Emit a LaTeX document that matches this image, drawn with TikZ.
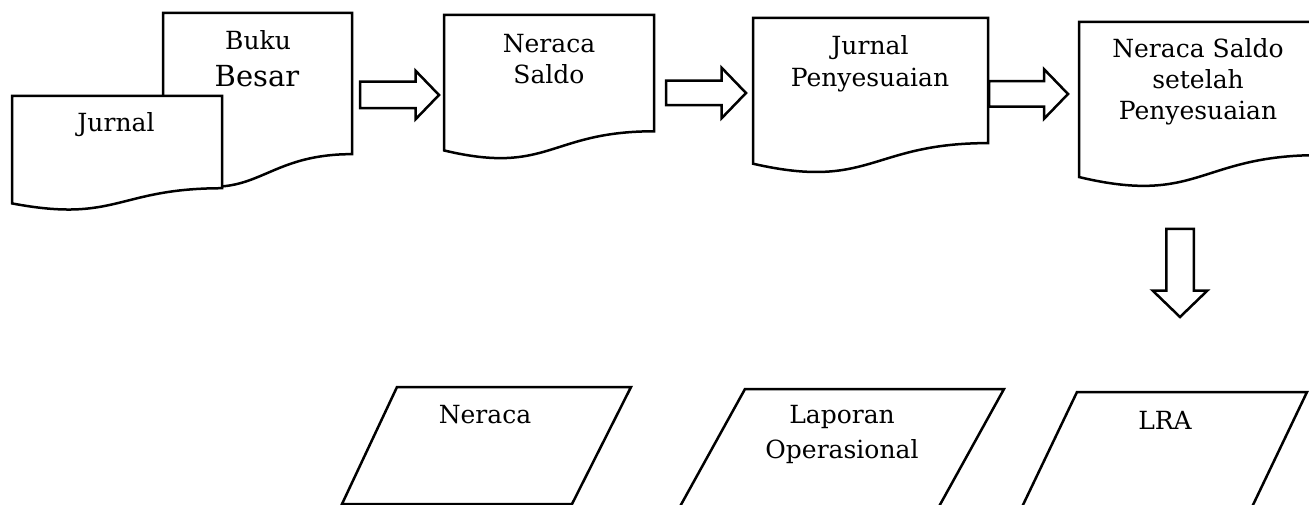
\documentclass[tikz,border=0pt]{standalone}
\usepackage{fontspec}
\setmainfont{DejaVu Serif}
\usetikzlibrary{shapes.arrows}
\tikzset{
  docline/.style={draw=black, line width=2.5pt, fill=white, line join=miter},
  blockarrow/.style={single arrow, draw=black, fill=white, line width=2.5pt, inner xsep=0pt, outer sep=0pt, single arrow tip angle=92, single arrow head indent=0pt, anchor=tail},
  txt/.style={inner sep=0pt, align=center, font=\fontsize{25}{31}\selectfont},
  para/.style={draw=black, line width=2.5pt},
}
% document shape: left x, top y, width, height (y grows downward)
\newcommand\docshape[4]{%
  \draw[docline] (#1,#2) -- ({#1+#3},#2) -- ({#1+#3},{#2+0.802*#4})
    .. controls ({#1+0.5*#3},{#2+0.802*#4}) and ({#1+0.5*#3},{#2+1.107*#4}) ..
    (#1,{#2+0.934*#4}) -- cycle;}
\begin{document}
\begin{tikzpicture}[x=1pt,y=-1pt]
\useasboundingbox (0,0) rectangle (1309,505);
\clip (0,0) rectangle (1309,505);
\fill[white] (0,0) rectangle (1309,505);

% documents
\docshape{163}{13}{189}{176}
\docshape{12}{96}{210}{115}
\docshape{444}{15}{210}{145}
\docshape{753}{18}{235}{156}
\docshape{1079}{22}{240}{166}

% texts in documents
\node[txt, anchor=base] (jurnal) at (116,132) {Jurnal};
\node[txt, anchor=base] (buku) at (258,50) {Buku};
\node[txt, anchor=base, font=\fontsize{29}{35}\selectfont] (besar) at (257,87) {Besar};
\node[txt, anchor=north] (nsaldo) at (549,30.3) {\strut Neraca\\Saldo};
\node[txt, anchor=north, font=\fontsize{25}{32}\selectfont] (jpeny) at (870,31.6) {\strut Jurnal\\Penyesuaian};
\node[txt, anchor=north] (nsp) at (1198,35.3) {\strut Neraca Saldo\\setelah\\Penyesuaian};

% block arrows
\node[blockarrow, minimum height=79, inner ysep=12, single arrow head extend=11] (a1) at (360,95) {};
\node[blockarrow, minimum height=80, inner ysep=11, single arrow head extend=13] (a2) at (666,93) {};
\node[blockarrow, minimum height=79, inner ysep=11.5, single arrow head extend=12] (a3) at (989,94) {};
\node[blockarrow, minimum height=88, inner ysep=12.5, single arrow head extend=13.5, rotate=-90] (a4) at (1180,229) {};

% parallelograms
\draw[para] (397,387) -- (631,387) -- (572,504) -- (342,504) -- cycle;
\draw[para] (745,389) -- (1004,389) -- (926,530) -- (667,530) -- cycle;
\draw[para] (1077,392) -- (1307,392) -- (1241,530) -- (1011,530) -- cycle;

\node[txt, anchor=base] (neraca) at (485,423) {Neraca};
\node[txt, anchor=north, font=\fontsize{25}{35}\selectfont] (lapop) at (842,398.5) {\strut Laporan\\Operasional};
\node[txt, anchor=base] (lra) at (1165,429) {LRA};
\end{tikzpicture}
\end{document}
